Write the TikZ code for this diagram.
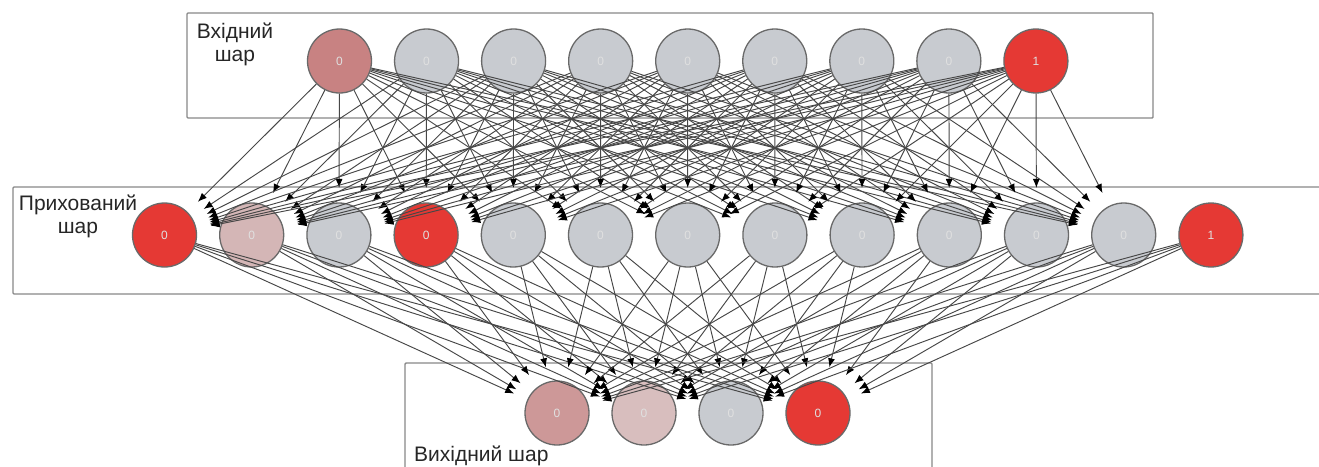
\documentclass[tikz,border=0pt]{standalone}
\usepackage{fontspec}
\setmainfont{Liberation Sans}
\usetikzlibrary{arrows.meta}
\definecolor{redN}{RGB}{229,57,52}
\definecolor{pinkA}{RGB}{200,130,130}
\definecolor{pinkB}{RGB}{212,182,182}
\definecolor{pinkC}{RGB}{205,152,152}
\definecolor{pinkD}{RGB}{216,190,190}
\definecolor{grayN}{RGB}{200,203,208}
\definecolor{rimgray}{RGB}{105,105,105}
\definecolor{boxgray}{RGB}{135,135,135}
\begin{document}
\begin{tikzpicture}[x=1pt,y=-1pt,
  neuron/.style={circle,draw=rimgray,line width=1.3pt,minimum size=64pt,inner sep=0pt,
    font=\fontsize{12}{12}\selectfont,text=white!88!black},
  layerbox/.style={draw=boxgray,line width=1.4pt,rounded corners=1pt},
  layername/.style={font=\fontsize{21}{23}\selectfont,align=center,text=black!85,inner sep=0pt},
  link/.style={draw=black!72,line width=0.95pt,
    -{Latex[length=9pt,width=7pt,fill=black,color=black]},shorten >=14.4pt},
]
\useasboundingbox (0,0) rectangle (1319,466);
\clip (0,0) rectangle (1319,466);

% layer frames
\draw[layerbox] (187,13) rectangle (1153,118);
\draw[layerbox] (13,187) rectangle (1340,294);
\draw[layerbox] (405,363) rectangle (932,480);

% layer captions
\node[layername] (capIn) at (235,44) {Вхідний\\шар};
\node[layername] (capHid) at (78,216) {Прихований\\шар};
\node[layername,anchor=base west] (capOut) at (414,461) {Вихідний шар};

% input layer (last unit is the bias)
\foreach \fc/\val [count=\i] in {pinkA/0,grayN/0,grayN/0,grayN/0,grayN/0,grayN/0,grayN/0,grayN/0,redN/1}
  \node[neuron,fill=\fc] (in\i) at ({339.5+87.05*(\i-1)},61) {\val};

% hidden layer (last unit is the bias)
\foreach \fc/\val [count=\i] in {redN/0,pinkB/0,grayN/0,redN/0,grayN/0,grayN/0,grayN/0,grayN/0,grayN/0,grayN/0,grayN/0,grayN/0,redN/1}
  \node[neuron,fill=\fc] (hid\i) at ({164.5+87.2*(\i-1)},235) {\val};

% output layer
\foreach \fc/\val [count=\i] in {pinkC/0,pinkD/0,grayN/0,redN/0}
  \node[neuron,fill=\fc] (out\i) at ({557+87*(\i-1)},413) {\val};

% weights: input -> hidden (bias unit of the hidden layer has no inputs)
\foreach \i in {1,...,9}
  \foreach \j in {1,...,12}
    \draw[link] (in\i) -- (hid\j);

% weights: hidden -> output
\foreach \j in {1,...,13}
  \foreach \k in {1,...,4}
    \draw[link] (hid\j) -- (out\k);
\end{tikzpicture}
\end{document}
